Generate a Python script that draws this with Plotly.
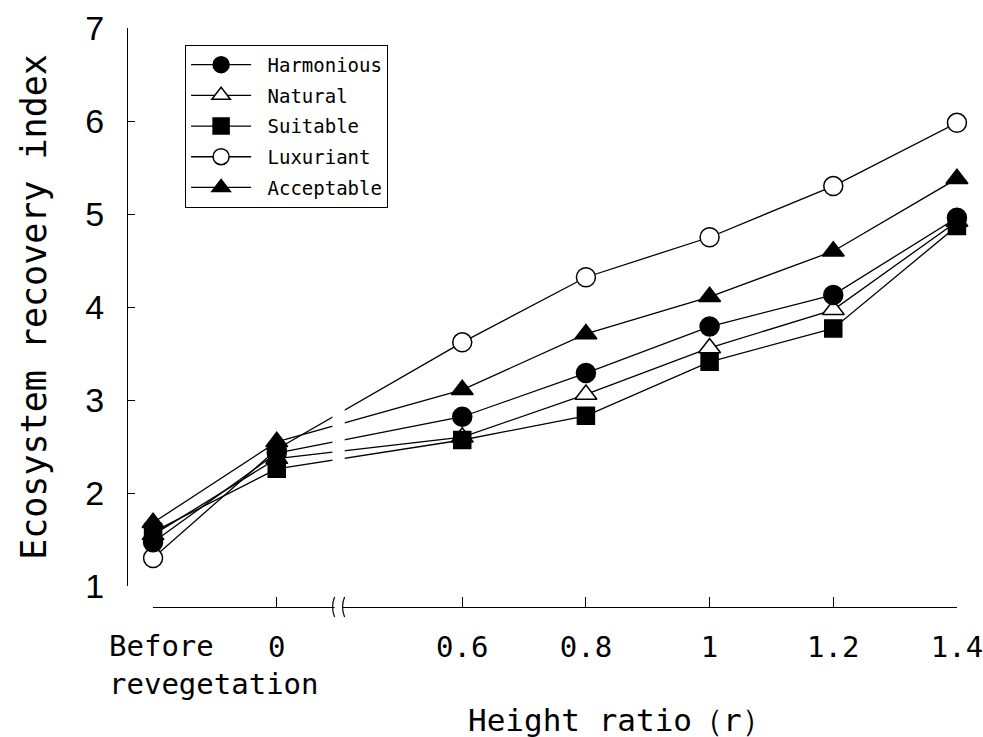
import plotly.graph_objects as go

# ---- data ----
categories = ["Before<br>revegetation", "0", "0.6", "0.8", "1", "1.2", "1.4"]
harmonious = [1.47, 2.43, 2.82, 3.29, 3.79, 4.13, 4.96]
natural    = [1.55, 2.37, 2.60, 3.06, 3.56, 3.97, 4.92]
suitable   = [1.58, 2.26, 2.57, 2.83, 3.41, 3.77, 4.87]
luxuriant  = [1.30, 2.47, 3.62, 4.32, 4.75, 5.30, 5.98]
acceptable = [1.68, 2.55, 3.11, 3.71, 4.11, 4.60, 5.38]
y_ticks = [1, 2, 3, 4, 5, 6, 7]

# axis slots (broken axis between "0" and "0.6")
x_slot = [0, 1, 2.5, 3.5, 4.5, 5.5, 6.5]
break_at = 1.5

MONO = "DejaVu Sans Mono"

series = [
    # name, values, symbol, fill, legend rank
    ("Natural", natural, "triangle-up", "white", 2),
    ("Luxuriant", luxuriant, "circle", "white", 4),
    ("Acceptable", acceptable, "triangle-up", "black", 5),
    ("Harmonious", harmonious, "circle", "black", 1),
    ("Suitable", suitable, "square", "black", 3),
]

fig = go.Figure()
for name, vals, sym, fill, rank in series:
    fig.add_trace(go.Scatter(
        x=x_slot, y=vals, name=" " + name, mode="lines+markers",
        line=dict(color="black", width=1.3),
        marker=dict(symbol=sym, size=19 if sym != "square" else 17, color=fill,
                    line=dict(color="black", width=1.5)),
        cliponaxis=False, legendrank=rank, legendgroup=name,
    ))

shapes = [
    # gap in the data lines at the axis break
    dict(type="rect", xref="x", yref="y", x0=break_at - 0.05, x1=break_at + 0.05,
         y0=2.05, y1=3.2, fillcolor="white", line=dict(width=0), layer="above"),
    # gap in the axis line
    dict(type="line", xref="x", yref="paper", xsizemode="pixel", ysizemode="pixel",
         xanchor=break_at, yanchor=0, x0=-4, x1=4, y0=0, y1=0,
         line=dict(color="white", width=4), layer="above"),
]
for dx in (-5, 5):
    shapes.append(dict(
        type="path", xref="x", yref="paper", xsizemode="pixel", ysizemode="pixel",
        xanchor=break_at, yanchor=0,
        path=f"M{dx+1},-10 Q{dx-3},0 {dx+1},10",
        line=dict(color="black", width=1.2), layer="above"))

fig.update_layout(
    width=983, height=737,
    margin=dict(l=127, r=26, t=28, b=130, autoexpand=False),
    paper_bgcolor="white", plot_bgcolor="white",
    font=dict(family=MONO, color="black"),
    showlegend=True,
    legend=dict(x=0.07, y=0.971, xanchor="left", yanchor="top",
                bordercolor="black", borderwidth=1, bgcolor="white",
                font=dict(family=MONO, size=19), itemwidth=60,
                tracegroupgap=3),
    xaxis=dict(
        domain=[26 / 830, 1], range=[-0.0005, 6.5005], anchor="free", position=0,
        tickvals=x_slot, ticktext=[""] + categories[1:], automargin=False,
        ticks="inside", ticklen=10, tickwidth=1, tickcolor="black",
        showline=True, linecolor="black", linewidth=1.2,
        showgrid=False, zeroline=False, ticklabeloverflow="allow",
        tickfont=dict(family=MONO, size=29), ticklabelstandoff=14,
    ),
    yaxis=dict(
        domain=[21 / 579, 1], range=[1, 7], anchor="free", position=0,
        tickvals=y_ticks, ticks="inside", ticklen=7, tickwidth=1, tickcolor="black",
        showline=True, linecolor="black", linewidth=1.2,
        showgrid=False, zeroline=False, automargin=False,
        tickfont=dict(family="Liberation Sans", size=34), ticklabelstandoff=16,
        title=dict(text="Ecosystem recovery index",
                   font=dict(family=MONO, size=35), standoff=26),
    ),
    shapes=shapes,
    annotations=[
        dict(text=categories[0], xref="x", yref="paper", x=x_slot[0], y=0,
             xanchor="left", yanchor="top", xshift=-46, yshift=-20, align="left",
             showarrow=False, font=dict(family=MONO, size=29)),
        dict(text="Height ratio（r）", xref="paper", yref="paper", x=(620 - 127) / 830,
             y=0, xanchor="center", yanchor="top", yshift=-93, showarrow=False,
             font=dict(family=MONO, size=31)),
    ],
)

fig.write_html("out.html")
